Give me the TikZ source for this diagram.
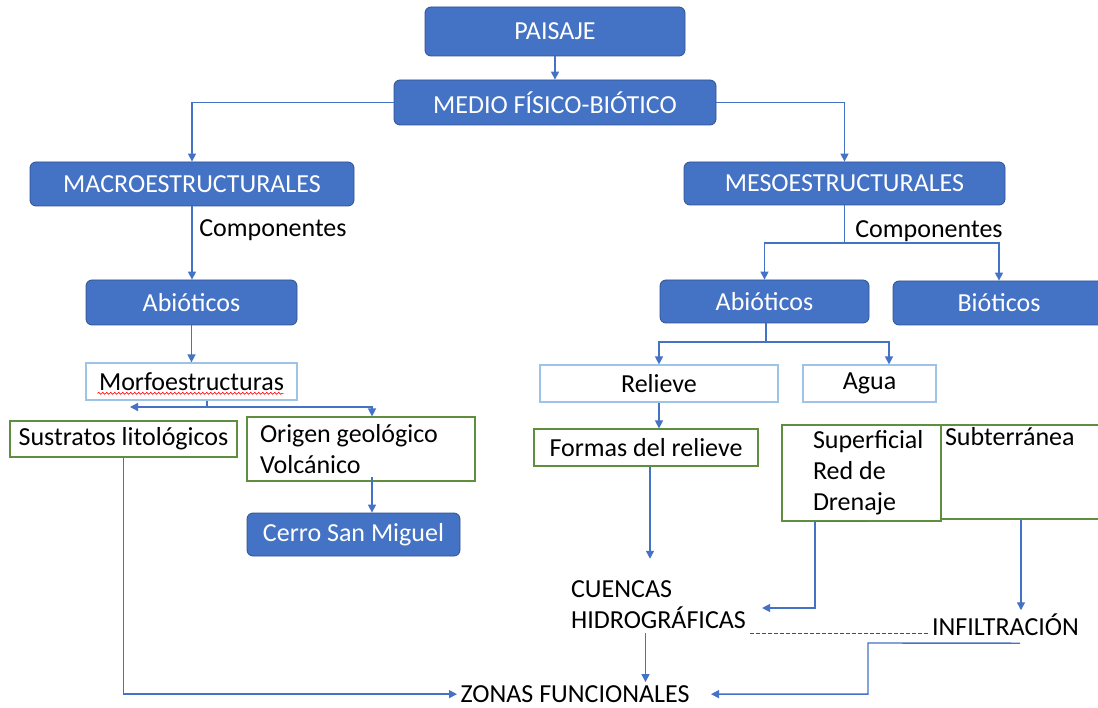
\documentclass[tikz,border=0pt]{standalone}
\usepackage{fontspec}
\setmainfont{Carlito}
\usetikzlibrary{arrows.meta,decorations.pathmorphing}

\definecolor{boxblue}{HTML}{4472C4}
\definecolor{boxedge}{HTML}{2F528F}
\definecolor{paleblue}{HTML}{9DC3E6}
\definecolor{leafgreen}{HTML}{5E8E3E}

\begin{document}
\begin{tikzpicture}[x=1pt, y=-1pt,
    every node/.style={font=\fontsize{26}{31}\selectfont},
    solid box/.style={rectangle, rounded corners=6pt, fill=boxblue, draw=boxedge, line width=0.8pt, text=white, inner sep=0pt},
    pale box/.style={rectangle, draw=paleblue, line width=1.2pt, inner sep=0pt},
    green box/.style={rectangle, draw=leafgreen, line width=1.2pt, inner sep=0pt},
    wire/.style={draw=boxblue, line width=1.4pt},
    link/.style={wire, -{Triangle[length=8pt,width=8pt]}},
    dots/.style={draw=black!70, line width=0.8pt, dash pattern=on 4pt off 2pt},
    squiggle/.style={draw=red, line width=0.6pt, decorate, decoration={snake, amplitude=1pt, segment length=4pt}}]

  \useasboundingbox (0,0) rectangle (1098,708);

  % filled boxes
  \foreach \n/\x/\y/\w/\h/\t in {paisaje/555/31.5/260/49/PAISAJE, medio/555/102.5/322/45/MEDIO FÍSICO-BIÓTICO,
      macro/192/184/324/44/MACROESTRUCTURALES, meso/844.5/183.5/321/43/MESOESTRUCTURALES,
      abioA/191.5/302.5/211/45/Abióticos, abioB/764.5/301.5/209/43/Abióticos,
      bio/999/303/212/44/Bióticos, cerro/353.5/534.5/213/43/Cerro San Miguel}
    \node [solid box, minimum width=\w, minimum height=\h] (\n) at (\x,\y) {\t};

  % outlined boxes
  \foreach \n/\x/\y/\w/\t in {morfo/191.5/381.5/211/Morfoestructuras, relieve/659/383.5/238/Relieve, agua/869.5/383.5/133/Agua}
    \node [pale box, minimum width=\w, minimum height=37] (\n) at (\x,\y) {\t};

  \node [green box, minimum width=227, minimum height=36] (sustratos) at (123.5,439) {Sustratos litológicos};
  \node [green box, minimum width=228, minimum height=64, text width=202pt, align=flush left] (origen) at (361,449) {Origen geológico\\Volcánico};
  \node [green box, minimum width=224, minimum height=37] (formas) at (646,447.5) {Formas del relieve};
  \node [green box, minimum width=159, minimum height=96, text width=97pt, align=flush left] (superf) at (861.5,473) {\mbox{Superficial}\\Red de\\Drenaje};
  \node [green box, minimum width=168, minimum height=94, text width=160pt, align=flush left] (subter) at (1025,472) {Subterránea\\\strut\\\strut};

  % plain labels
  \node (compA) at (273,230) {Componentes};
  \node (compB) at (929,231) {Componentes};
  \node [align=left, inner xsep=4pt, inner ysep=4pt] (cuencas) at (658.5,605) {CUENCAS\\HIDROGRÁFICAS};
  \node [anchor=base] (infil) at (1005.5,635.5) {INFILTRACIÓN};
  \node [anchor=base] (zonas) at (575,702.5) {ZONAS FUNCIONALES};

  \coordinate (mesofork) at (844.5,243);
  \coordinate (morfofork) at (207,407);
  \coordinate (sustratosend) at (130,407);
  \coordinate (abiofork) at (766,342);
  \coordinate (infilbend) at (868,643);

  \draw[link] (paisaje) -- (medio);
  \draw[link] (medio.west) -| (macro.north);
  \draw[link] (medio.east) -| (meso.north);
  \draw[link] (macro.south) -- (macro.south |- abioA.north);
  \draw[wire] (meso.south) -- (mesofork);
  \draw[link] (mesofork) -| (abioB.north);
  \draw[link] (mesofork) -| (bio.north);

  \draw[link] (abioA) -- (morfo);
  \draw[squiggle] ([xshift=12pt,yshift=-3pt]morfo.base west) -- ([xshift=-14pt,yshift=-3pt]morfo.base east);
  \draw[wire] (morfofork |- morfo.south) -- (morfofork);
  \draw[link] (morfofork) -- (sustratosend);
  \draw[link] (morfofork) -| ([xshift=11pt]origen.north);
  \draw[link] ([xshift=11pt,yshift=5pt]origen.south) -- ([xshift=11pt]origen.south |- cerro.north);
  \draw[link] (sustratos.south) |- (zonas.west);

  \draw[wire] (abioB.south -| abiofork) -- (abiofork);
  \draw[link] (abiofork) -| (relieve.north);
  \draw[link] (abiofork) -| ([xshift=19.5pt]agua.north);
  \draw[link] (relieve.south) -- (relieve.south |- formas.north);
  \draw[link, shorten >=18pt] ([xshift=4pt]formas.south) -- ([xshift=4pt]formas.south |- cuencas.north);

  \draw[link, shorten >=12pt] ([xshift=5.5pt]superf.south) -- ([xshift=-46.5pt]superf.south) |- ([yshift=-3pt]cuencas.east);
  \draw[link] ([xshift=-4pt]subter.south) -- ([xshift=-4pt]subter.south |- infil.north);
  \draw[dots] ([yshift=2pt]cuencas.east |- infil.base west) -- ([yshift=2pt]infil.base west);
  \draw[link] ([xshift=-13pt]cuencas.south) -- ([xshift=-13pt]cuencas.south |- zonas.north);
  \draw[link, shorten >=18pt] ([xshift=14.5pt,yshift=-4pt]infil.south) -- (infilbend) |- (zonas.east);

\end{tikzpicture}
\end{document}
